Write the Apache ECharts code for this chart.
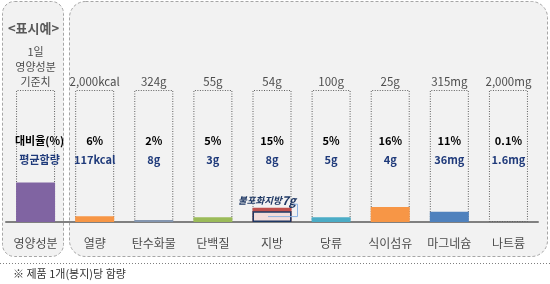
<!DOCTYPE html>
<html><head><meta charset="utf-8">
<script src="https://cdn.jsdelivr.net/npm/echarts@6/dist/echarts.min.js"></script>
<style>html,body{margin:0;padding:0;background:#fff}#c{width:550px;height:284px}</style>
</head><body><div id="c"></div>
<script>
const categories = ['영양성분','열량','탄수화물','단백질','지방','당류','식이섬유','마그네슘','나트륨'];
const dailyValues = ['1일\n영양성분\n기준치','2,000kcal','324g','55g','54g','100g','25g','315mg','2,000mg'];
const percentLabels = ['대비율(%)','6%','2%','5%','15%','5%','16%','11%','0.1%'];
const amountLabels = ['평균함량','117kcal','8g','3g','8g','5g','4g','36mg','1.6mg'];
const barValues = [42, 6, 2, 5, 15, 5, 16, 11, 0.1];
const barColors = ['#8064a2','#f79646','#8496b0','#9bbb59','#c0504d','#4bacc6','#f79646','#4f81bd','#a6a6a6'];
const satFatIndex = 4;
const satFatBox = 11.5;
const satFatLabel = ['불포화지방','7g'];
const headerTitle = '<표시예>';
const footnote = '※ 제품 1개(봉지)당 함량';
const columnMax = 140;

const FONT = '"Malgun Gothic","Noto Sans CJK KR","Noto Sans",sans-serif';
const chart = echarts.init(document.getElementById('c'), null, {renderer:'canvas'});
const BW = 39;
const colValues = categories.map(() => columnMax);

const option = {
  backgroundColor: '#ffffff',
  animation: false,
  grid: {left: 6, right: 12, top: 90, bottom: 62},
  xAxis: {
    type: 'category', data: categories,
    axisLine: {lineStyle: {color: '#808080', width: 2}},
    axisTick: {show: false},
    axisLabel: {color: '#4d4d4d', fontSize: 12, fontFamily: FONT, margin: 15}
  },
  yAxis: {type: 'value', min: 0, max: columnMax, show: false, splitLine: {show: false}},
  series: [
    {
      type: 'bar', data: colValues, barWidth: BW, barGap: '-100%', z: 1, silent: true,
      itemStyle: {color: 'rgba(0,0,0,0)', borderColor: '#606060', borderWidth: 1, borderType: [1, 1.5]},
      label: {
        show: true, position: 'top', distance: 1, fontFamily: FONT,
        formatter: p => {
          if (p.dataIndex === 0) {
            return dailyValues[0].split('\n').map(s => '{d|' + s + '}').join('\n');
          }
          return '{v|' + dailyValues[p.dataIndex] + '}';
        },
        rich: {
          d: {fontSize: 11, color: '#4d4d4d', lineHeight: 15, fontFamily: FONT},
          v: {fontSize: 11.5, color: '#4d4d4d', lineHeight: 14, fontFamily: FONT}
        }
      }
    },
    {
      type: 'bar', barWidth: BW, barGap: '-100%', z: 3, silent: true,
      data: barValues.map((v, i) => ({value: v, itemStyle: {color: barColors[i]}}))
    },
    {
      type: 'bar', barWidth: BW, barGap: '-100%', z: 4, silent: true,
      data: categories.map((c, i) => i === satFatIndex ? satFatBox : '-'),
      itemStyle: {color: '#f2dcdb', borderColor: '#1f3864', borderWidth: 1.5},
      label: {
        show: true, position: 'top', distance: 5, offset: [-5, 0],
        formatter: () => '{k|' + satFatLabel[0] + '}{n|' + satFatLabel[1] + '}',
        rich: {
          k: {fontSize: 9.5, fontStyle: 'italic', fontWeight: 'bold', color: '#1f3864', fontFamily: FONT},
          n: {fontSize: 12, fontStyle: 'italic', fontWeight: 'bold', color: '#1f3864', fontFamily: FONT}
        }
      }
    },
    {
      type: 'bar', barWidth: BW, barGap: '-100%', z: 5, silent: true,
      data: colValues.map((v, i) => i === 0 ? {value: v, label: {offset: [4, 0]}} : v),
      itemStyle: {color: 'rgba(0,0,0,0)'},
      label: {
        show: true, position: 'insideTop', distance: 41,
        formatter: p => '{p|' + percentLabels[p.dataIndex] + '}\n{a|' + amountLabels[p.dataIndex] + '}',
        rich: {
          p: {fontSize: 11, fontWeight: 'bold', color: '#000000', lineHeight: 19, fontFamily: FONT},
          a: {fontSize: 11, fontWeight: 'bold', color: '#1f3a7a', lineHeight: 19, fontFamily: FONT}
        }
      }
    }
  ],
  graphic: [
    {type: 'rect', z: -10, shape: {x: 2.5, y: 1.5, width: 61, height: 255, r: 12},
     style: {fill: '#f2f2f2', stroke: '#a6a6a6', lineWidth: 1, lineDash: [3, 2]}},
    {type: 'rect', z: -10, shape: {x: 69.5, y: 1.5, width: 478, height: 255, r: 16},
     style: {fill: '#f2f2f2', stroke: '#a6a6a6', lineWidth: 1, lineDash: [3, 2]}},
    {type: 'line', z: -10, shape: {x1: 0, y1: 263.5, x2: 550, y2: 263.5},
     style: {stroke: '#7f7f7f', lineWidth: 1, lineDash: [1, 2]}},
    {type: 'text', z: 10, x: 13, y: 268,
     style: {text: footnote, fill: '#333333', fontSize: 11, fontFamily: FONT, verticalAlign: 'top'}}
  ]
};
chart.setOption(option);

const xC = chart.convertToPixel({xAxisIndex: 0}, satFatIndex);
const yTop = chart.convertToPixel({yAxisIndex: 0}, satFatBox);
const y0 = chart.convertToPixel({yAxisIndex: 0}, 0);
const yMid = (yTop + y0) / 2;
const right = xC + BW / 2;
option.graphic.push({
  type: 'polyline', z: 20,
  shape: {points: [[xC - 4, yMid], [right + 6, yMid], [right + 6, yTop - 7], [right + 2, yTop - 7]]},
  style: {stroke: '#8db3e2', lineWidth: 1, fill: null}
});
const x0 = chart.convertToPixel({xAxisIndex: 0}, 0);
option.graphic.push({
  type: 'text', z: 20, x: x0 - 2, y: 28,
  style: {text: headerTitle, fill: '#595959', fontSize: 13, fontWeight: 'bold', fontFamily: FONT, align: 'center', verticalAlign: 'middle'}
});
chart.setOption({graphic: option.graphic});
</script>
</body></html>
